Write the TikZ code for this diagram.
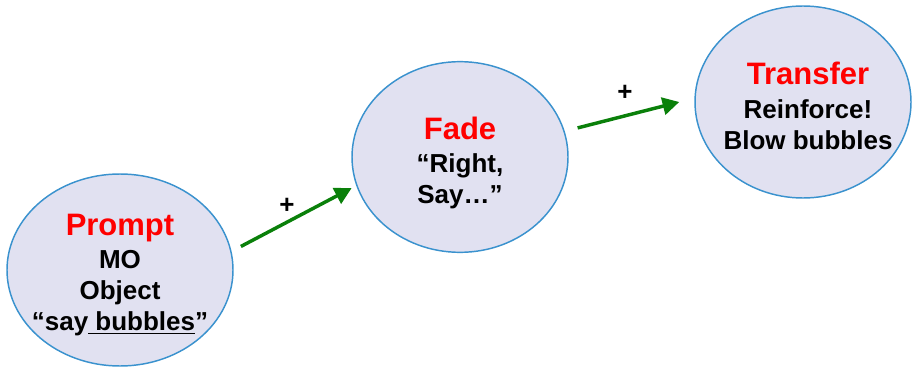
\documentclass[tikz,border=0pt]{standalone}
\usepackage{fontspec}
\setmainfont{Liberation Sans}
\usepackage{tikz}
\usetikzlibrary{arrows.meta,shapes.geometric}

\definecolor{bubblefill}{RGB}{225,225,241}
\definecolor{bubbleline}{RGB}{58,146,206}
\definecolor{flowgreen}{RGB}{10,128,10}

\tikzset{
  bubble/.style={ellipse, draw=bubbleline, fill=bubblefill, line width=1.1pt, inner sep=0pt},
  bubbletext/.style={align=center, font=\fontsize{19.5}{23.25}\selectfont\bfseries},
  flow/.style={draw=flowgreen, line width=2.6pt, -{Triangle[length=12.5pt,width=13pt]}},
}
\newcommand{\headword}[1]{{\fontsize{23.25}{25}\selectfont\color{red}#1}}

\begin{document}
\begin{tikzpicture}[x=0.75pt,y=0.75pt,yscale=-1,xscale=1]
\useasboundingbox (0,0) rectangle (912,367);

%Shape: Ellipse [prompt]
\node[bubble, minimum width=169.5pt, minimum height=144pt] (prompt) at (120,270) {};
%Shape: Ellipse [fade]
\node[bubble, minimum width=162pt, minimum height=143pt] (fade) at (460,157) {};
%Shape: Ellipse [transfer]
\node[bubble, minimum width=162pt, minimum height=144pt] (transfer) at (803,102) {};

% Text Node
\node[bubbletext] (promptText) at (120,275) {\headword{Prompt}\\[2pt] MO\\ Object\\ “say\underline{ bubbles}”};
% Text Node
\node[bubbletext] (fadeText) at (460,163) {\headword{Fade}\\[2pt] “Right,\\ Say…”};
% Text Node
\node[bubbletext] (transferText) at (808,106) {\headword{Transfer}\\[2pt] Reinforce!\\ Blow bubbles};

%Straight Lines
\draw[flow] ([shift={(10,-2)}]prompt.11) -- ([shift={(-5,1.5)}]fade.196);
%Straight Lines
\draw[flow] ([shift={(13,-3)}]fade.14) -- ([shift={(-15,0)}]transfer.180);

% Text Node
\node[bubbletext] (plusA) at (287,206) {+};
% Text Node
\node[bubbletext] (plusB) at (625,93) {+};

\end{tikzpicture}
\end{document}
